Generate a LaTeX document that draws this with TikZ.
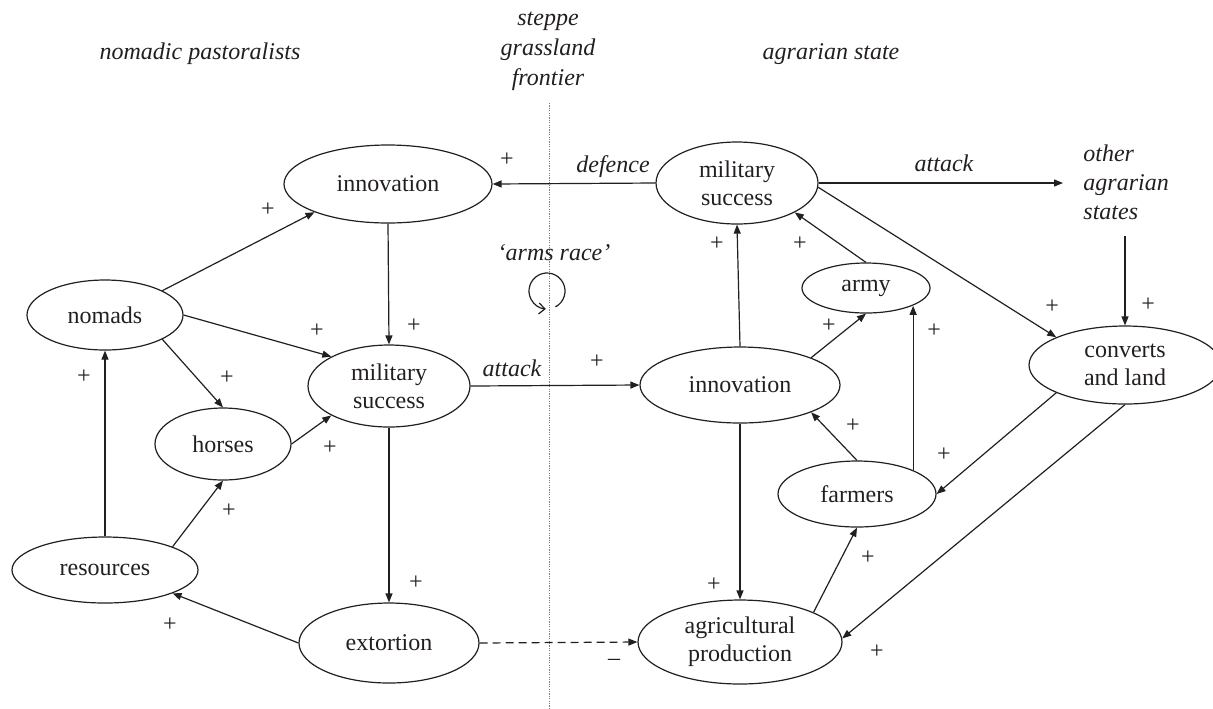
\documentclass[tikz,border=0pt]{standalone}
\usepackage{fontspec}
\setmainfont{Liberation Serif}
\usetikzlibrary{shapes.geometric,arrows.meta}
\definecolor{ink}{HTML}{231F20}
\begin{document}
\begin{tikzpicture}[x=0.5pt,y=-0.5pt,
  font=\fontsize{12}{14}\selectfont,
  ell/.style={draw=ink, line width=0.6pt, ellipse, inner sep=0pt, align=center, text=ink},
  lbl/.style={text=ink, inner sep=0pt, font=\fontsize{12}{14}\selectfont\itshape},
  pl/.style={text=ink, inner sep=0pt},
  arr/.style={draw=ink, line width=0.6pt, -{Triangle[length=4.5pt,width=3.5pt]}},
  darr/.style={arr, dash pattern=on 4pt off 2.5pt}]
\useasboundingbox (0,0) rectangle (1213,708);

% headers
\node[lbl] (hnom) at (200,54) {nomadic pastoralists};
\node[lbl, align=center, font=\fontsize{12}{15}\selectfont\itshape] (hstep) at (548,51) {steppe\\grassland\\frontier};
\node[lbl] (hagr) at (831,54) {agrarian state};
\coordinate (ftop) at (549,103);
\coordinate (fbot) at (549,708);
\draw[gray, line width=0.4pt, dash pattern=on 0.6pt off 0.6pt] (ftop) -- (fbot);

% nodes left
\node[ell, minimum width=104pt, minimum height=39pt] (INL) at (388,184) {innovation};
\node[ell, minimum width=78pt, minimum height=35pt] (NOM) at (105,315) {nomads};
\node[ell, minimum width=81pt, minimum height=41pt] (MSL) at (389,386) {military\\success};
\node[ell, minimum width=68pt, minimum height=36pt] (HOR) at (223,444) {horses};
\node[ell, minimum width=93pt, minimum height=33pt] (RES) at (105,570) {resources};
\node[ell, minimum width=90pt, minimum height=40pt] (EXT) at (389,643) {extortion};

% nodes right
\node[ell, minimum width=81pt, minimum height=41pt] (MSR) at (737,183) {military\\success};
\node[ell, minimum width=64pt, minimum height=25pt] (ARMY) at (866,288) {army};
\node[ell, minimum width=100pt, minimum height=38pt] (INR) at (740,385) {innovation};
\node[ell, minimum width=96pt, minimum height=39pt] (CON) at (1125,365) {converts\\and land};
\node[ell, minimum width=79pt, minimum height=33pt] (FAR) at (857,494) {farmers};
\node[ell, minimum width=102pt, minimum height=42pt] (AGR) at (740,642) {agricultural\\production};
\node[lbl, align=left, anchor=west, font=\fontsize{12}{14.5}\selectfont\itshape] (oth) at (1083,182) {other\\agrarian\\states};
\coordinate (othin) at (1063,183);
\coordinate (othout) at (1125,236);

% arms race
\node[lbl] (arms) at (554,253) {‘arms race’};
\coordinate (arcc) at (547,291);
\draw[ink, line width=0.6pt, -{Straight Barb[length=3pt,width=5.5pt]}]
  ([shift={(-62:9pt)}]arcc) arc[start angle=-62, end angle=266, radius=9pt];

% edges left
\draw[arr] (NOM.23.7) -- (INL.201);
\draw[arr] (NOM.east) -- (MSL.153);
\draw[arr] (NOM.-23.7) -- (HOR.north);
\draw[arr] (INL.south) -- (MSL.north);
\draw[arr] (HOR.east) -- (MSL.207);
\draw[arr] (RES.19.2) -- (HOR.south);
\draw[arr] (RES.north) -- (NOM.south);
\draw[arr] (EXT.west) -- (RES.-19.7);
\draw[arr] (MSL.south) -- (EXT.north);
\draw[darr] (EXT.east) -- (AGR.west);
\draw[arr] (MSL.east) -- (INR.west);
\draw[arr] (MSR.west) -- (INL.east);

% edges right
\draw[arr] (MSR.east) -- (othin);
\draw[arr] (INR.north) -- (MSR.south);
\draw[arr] (ARMY.north) -- (MSR.-27);
\draw[arr] (INR.21.5) -- (ARMY.south);
\draw[arr] (FAR.23.3) -- (FAR.23.3 |- ARMY.-21.4);
\draw[arr] (MSR.-3) -- (CON.158.3);
\draw[arr] (othout) -- (CON.north);
\draw[arr] (CON.202.4) -- (FAR.east);
\draw[arr] (CON.south) -- (AGR.2);
\draw[arr] (FAR.north) -- (INR.-21.3);
\draw[arr] (AGR.22.3) -- (FAR.south);
\draw[arr] (INR.south) -- (AGR.north);

% edge labels
\node[lbl] (ldef) at (613,167) {defence};
\node[lbl] (latt1) at (512,368) {attack};
\node[lbl] (latt2) at (944,163) {attack};

% signs
\node[pl] (p1) at (268,210) {+};
\node[pl] (p2) at (317,331) {+};
\node[pl] (p3) at (414,326) {+};
\node[pl] (p4) at (84,377) {+};
\node[pl] (p5) at (227,378) {+};
\node[pl] (p6) at (330,448) {+};
\node[pl] (p7) at (229,511) {+};
\node[pl] (p8) at (416,583) {+};
\node[pl] (p9) at (170,625) {+};
\node[pl] (p10) at (507,160) {+};
\node[pl] (p11) at (597,362) {+};
\node[pl] (p12) at (717,244) {+};
\node[pl] (p13) at (800,244) {+};
\node[pl] (p14) at (829,326) {+};
\node[pl] (p15) at (934,331) {+};
\node[pl] (p16) at (1052,307) {+};
\node[pl] (p17) at (1148,305) {+};
\node[pl] (p18) at (853,426) {+};
\node[pl] (p19) at (944,455) {+};
\node[pl] (p20) at (868,558) {+};
\node[pl] (p21) at (714,585) {+};
\node[pl] (p22) at (877,652) {+};
\node[pl] (m1) at (614,662) {–};
\end{tikzpicture}
\end{document}
